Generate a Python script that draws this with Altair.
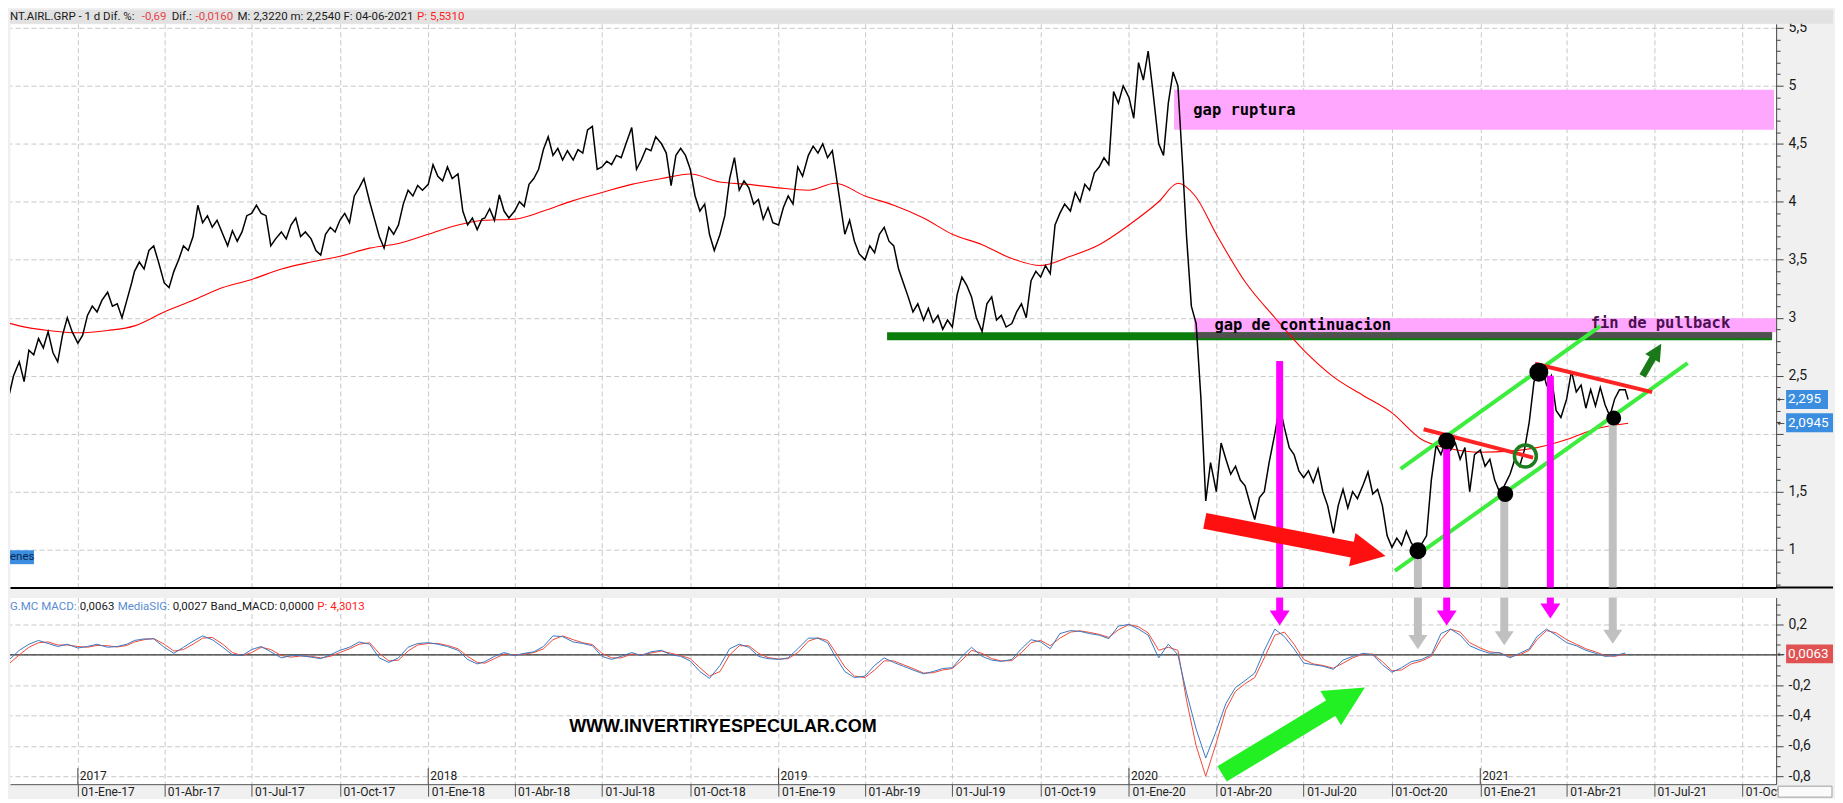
import altair as alt
import pandas as pd

W = 1770      # plot width
H_TOP = 565   # price panel height
H_BOT = 187   # MACD panel height
RX = 57       # room right of the plots

# ---------------- price (5-day samples: days 1,6,11,16,21,26) ----------------
price_2016 = [2.15, 2.32, 2.5,
              2.62, 2.45, 2.72, 2.68, 2.82, 2.74,
              2.88, 2.7, 2.62, 2.85, 3.0, 2.88]
price_2017 = [2.78, 2.85, 3.02, 3.1, 3.05, 3.15,
              3.22, 3.1, 3.12, 3.0, 3.15, 3.3,
              3.4, 3.48, 3.42, 3.58, 3.62, 3.48,
              3.3, 3.26, 3.4, 3.5, 3.62, 3.58,
              3.7, 3.97, 3.82, 3.88, 3.78, 3.84,
              3.72, 3.62, 3.75, 3.66, 3.74, 3.88,
              3.9, 3.97, 3.9, 3.88, 3.62, 3.68,
              3.74, 3.68, 3.8, 3.86, 3.7, 3.74,
              3.68, 3.58, 3.54, 3.72, 3.78, 3.74,
              3.84, 3.9, 3.82, 4.05, 4.12, 4.2,
              4.0, 3.85, 3.7, 3.6, 3.78, 3.72,
              3.8, 3.98, 4.1, 4.05, 4.14, 4.1]
price_2018 = [4.15, 4.32, 4.22, 4.18, 4.3, 4.2,
              4.24, 3.92, 3.8, 3.86, 3.76, 3.85,
              3.86, 3.94, 3.84, 4.06, 3.92, 3.86,
              3.92, 4.0, 3.96, 4.15, 4.2, 4.28,
              4.45, 4.56, 4.4, 4.46, 4.36, 4.44,
              4.36, 4.45, 4.42, 4.62, 4.65, 4.28,
              4.3, 4.35, 4.32, 4.4, 4.38, 4.5,
              4.64, 4.28, 4.36, 4.46, 4.44, 4.56,
              4.5, 4.42, 4.14, 4.4, 4.46, 4.4,
              4.28, 4.05, 3.92, 3.98, 3.72, 3.58,
              3.72, 3.88, 4.2, 4.38, 4.1, 4.18,
              4.12, 3.98, 4.02, 3.85, 3.95, 3.82]
price_2019 = [3.8, 3.95, 4.05, 3.98, 4.3, 4.22,
              4.4, 4.48, 4.42, 4.5, 4.38, 4.44,
              4.28, 4.0, 3.72, 3.84, 3.66, 3.55,
              3.5, 3.62, 3.56, 3.72, 3.78, 3.66,
              3.62, 3.42, 3.3, 3.18, 3.05, 3.12,
              2.98, 3.08, 2.96, 3.02, 2.9, 2.98,
              2.92, 3.2, 3.35, 3.28, 3.18, 3.0,
              2.88, 3.12, 3.18, 2.98, 3.02, 2.92,
              2.95, 3.05, 3.12, 3.0, 3.32, 3.4,
              3.35, 3.45, 3.38, 3.8, 3.9, 3.98,
              3.92, 4.08, 4.0, 4.15, 4.1, 4.25,
              4.3, 4.38, 4.32, 4.95, 4.85, 5.0]
price_2020 = [4.9, 4.72, 5.2, 5.05, 5.3, 4.95,
              4.5, 4.4, 4.85, 5.12, 5.0, 4.3,
              3.7, 3.1, 2.95, 2.3, 1.42, 1.75,
              1.5, 1.92, 1.78, 1.65, 1.72, 1.6,
              1.55, 1.4, 1.26, 1.45, 1.5, 1.75,
              2.0, 2.24, 2.05, 1.88, 1.82, 1.68,
              1.62, 1.68, 1.58, 1.7, 1.5, 1.38,
              1.14, 1.38, 1.52, 1.36, 1.5, 1.44,
              1.56, 1.67, 1.48, 1.52, 1.38, 1.12,
              1.02, 1.1, 1.04, 1.16, 1.06, 1.0,
              1.05, 1.12, 1.6, 1.9, 1.82, 1.94,
              1.86, 1.92, 1.78, 1.88, 1.5, 1.82]
price_2021 = [1.86, 1.72, 1.78, 1.6, 1.5, 1.55,
              1.65, 1.78, 1.72, 1.86, 2.1, 2.45,
              2.5, 2.58, 2.42, 2.5, 2.2, 2.14,
              2.3, 2.54, 2.36, 2.42, 2.22, 2.38,
              2.24, 2.4, 2.25, 2.15, 2.3, 2.38,
              2.38, 2.295]

# moving average (red)
ma_dates = ["2016-10-10", "2016-11-01", "2016-12-01",
            "2017-01-01", "2017-02-01", "2017-03-01", "2017-04-01", "2017-05-01", "2017-06-01",
            "2017-07-01", "2017-08-01", "2017-09-01", "2017-10-01", "2017-11-01", "2017-12-01",
            "2018-01-01", "2018-02-01", "2018-03-01", "2018-04-01", "2018-05-01", "2018-06-01",
            "2018-07-01", "2018-08-01", "2018-09-01", "2018-10-01", "2018-11-01", "2018-12-01",
            "2019-01-01", "2019-02-01", "2019-03-01", "2019-04-01", "2019-05-01", "2019-06-01",
            "2019-07-01", "2019-08-01", "2019-09-01", "2019-10-01", "2019-11-01", "2019-12-01",
            "2020-01-01", "2020-02-01", "2020-02-21", "2020-03-10", "2020-04-01", "2020-05-01",
            "2020-06-01", "2020-07-01", "2020-08-01", "2020-09-01", "2020-10-01", "2020-11-01",
            "2020-12-01", "2021-01-01", "2021-02-01", "2021-03-01", "2021-04-01", "2021-05-01",
            "2021-06-04"]
ma_vals = [2.98, 2.93, 2.89,
           2.87, 2.89, 2.93, 3.05, 3.15, 3.26,
           3.33, 3.42, 3.48, 3.53, 3.6, 3.64,
           3.72, 3.8, 3.84, 3.85, 3.92, 4.01,
           4.08, 4.15, 4.2, 4.24, 4.17, 4.15,
           4.12, 4.1, 4.16, 4.05, 3.97, 3.86,
           3.72, 3.63, 3.51, 3.45, 3.53, 3.63,
           3.8, 4.0, 4.16, 4.05, 3.72, 3.31,
           3.0, 2.72, 2.49, 2.33, 2.18, 1.95,
           1.87, 1.84, 1.85, 1.88, 1.95, 2.04,
           2.09]

# ---------------- MACD (samples on days 1, 11, 21) ----------------
sig_2016 = [-0.12, -0.035, 0.03, 0.07, 0.095, 0.075, 0.055, 0.07]
sig_2017 = [0.045, 0.055, 0.07, 0.05, 0.055, 0.07, 0.095, 0.105, 0.105,
            0.05, 0.01, 0.05, 0.09, 0.125, 0.1, 0.05, 0.0, -0.005,
            0.035, 0.055, 0.02, -0.02, -0.005, -0.005, -0.015, -0.025, 0.0,
            0.03, 0.05, 0.085, 0.07, -0.02, -0.05, -0.02, 0.05, 0.075]
sig_2018 = [0.08, 0.07, 0.055, 0.03, -0.03, -0.06, -0.045, -0.01, 0.015,
            -0.005, 0.01, 0.02, 0.055, 0.125, 0.12, 0.085, 0.075, 0.06,
            -0.01, -0.03, -0.01, 0.015, -0.005, 0.02, 0.03, 0.0, -0.01,
            -0.04, -0.11, -0.155, -0.07, 0.04, 0.07, 0.05, -0.01, -0.025]
sig_2019 = [-0.03, -0.02, 0.04, 0.11, 0.11, 0.08, -0.01, -0.11, -0.15,
            -0.14, -0.07, -0.02, -0.05, -0.075, -0.1, -0.125, -0.11, -0.09,
            -0.085, -0.01, 0.05, -0.01, -0.035, -0.043, -0.03, 0.04, 0.1,
            0.085, 0.04, 0.14, 0.16, 0.155, 0.14, 0.13, 0.107, 0.19]
sig_2020 = [0.2, 0.17, 0.13, -0.02, 0.07, 0.0, -0.25, -0.49, -0.68,
            -0.5, -0.32, -0.215, -0.17, -0.12, 0.03, 0.17, 0.12, 0.04,
            -0.054, -0.065, -0.075, -0.095, -0.035, -0.01, 0.01, 0.0, -0.065,
            -0.115, -0.085, -0.045, -0.03, 0.0, 0.14, 0.17, 0.13, 0.06]
sig_2021 = [0.03, 0.01, 0.015, -0.02, 0.01, 0.04, 0.12, 0.17, 0.13,
            0.08, 0.06, 0.03, 0.01, -0.01, -0.005, 0.012]

macd_2016 = [-0.1, -0.06, 0.0, 0.05, 0.08, 0.085, 0.065, 0.065]
macd_2017 = [0.055, 0.05, 0.062, 0.06, 0.052, 0.062, 0.085, 0.1, 0.108,
             0.07, 0.025, 0.035, 0.07, 0.11, 0.115, 0.07, 0.015, -0.005,
             0.015, 0.05, 0.035, -0.005, -0.015, -0.008, -0.01, -0.02, -0.01,
             0.015, 0.04, 0.07, 0.08, 0.01, -0.04, -0.035, 0.025, 0.065]
macd_2018 = [0.075, 0.075, 0.062, 0.04, -0.01, -0.05, -0.055, -0.025, 0.005,
             0.0, 0.005, 0.015, 0.04, 0.1, 0.125, 0.1, 0.08, 0.068,
             0.01, -0.02, -0.02, 0.005, 0.0, 0.012, 0.025, 0.01, -0.005,
             -0.025, -0.085, -0.14, -0.11, 0.0, 0.06, 0.06, 0.01, -0.018]
macd_2019 = [-0.028, -0.025, 0.015, 0.09, 0.112, 0.095, 0.02, -0.08, -0.14,
             -0.15, -0.1, -0.04, -0.04, -0.065, -0.09, -0.12, -0.118, -0.1,
             -0.09, -0.035, 0.03, 0.01, -0.025, -0.04, -0.038, 0.015, 0.08,
             0.095, 0.06, 0.11, 0.15, 0.158, 0.148, 0.135, 0.115, 0.165]
macd_2020 = [0.2, 0.185, 0.145, 0.03, 0.05, 0.03, -0.3, -0.6, -0.8,
             -0.58, -0.36, -0.24, -0.19, -0.15, -0.02, 0.13, 0.15, 0.07,
             -0.03, -0.06, -0.07, -0.088, -0.055, -0.02, 0.005, 0.005, -0.045,
             -0.105, -0.1, -0.06, -0.04, -0.01, 0.1, 0.17, 0.15, 0.08]
macd_2021 = [0.045, 0.02, 0.012, -0.01, 0.0, 0.03, 0.1, 0.16, 0.145,
             0.1, 0.07, 0.04, 0.02, -0.005, -0.01, 0.006]

# ---------------- annotations ----------------
gap_start = ["2020-02-17", "2020-03-09"]
gap_end = ["2021-11-03", "2021-11-05"]
gap_top = [4.966, 2.996]
gap_bottom = [4.622, 2.875]

note_text = ["gap ruptura", "gap de continuacion", "fin de pullback"]
note_date = ["2020-03-08", "2020-03-30", "2021-04-26"]
note_price = [4.794, 2.935, 2.953]
note_color = ["#000000", "#000000", "#4a1050"]

support_start, support_end, support_level = "2019-04-24", "2021-11-01", 2.841
support_grey_start, support_grey_level = "2020-03-09", 2.849

chan_start = ["2020-10-10", "2020-10-04"]
chan_end = ["2021-05-06", "2021-08-05"]
chan_p1 = [1.696, 0.818]
chan_p2 = [2.927, 2.608]

res_start = ["2020-11-03", "2021-02-27"]
res_end = ["2021-02-25", "2021-06-29"]
res_p1 = [2.038, 2.603]
res_p2 = [1.794, 2.359]

dot_date = ["2020-10-28", "2020-11-27", "2021-01-27", "2021-03-03", "2021-05-20"]
dot_price = [0.99, 1.937, 1.48, 2.53, 2.135]
dot_diam = [17, 17, 16, 19, 15]

ring_date, ring_price = "2021-02-17", 1.808

# vertical arrows: date, start price (top panel), MACD tip value
mag_date = ["2020-06-06", "2020-11-27", "2021-03-15"]
mag_top = [2.626, 1.91, 2.5]
mag_tip = [0.193, 0.193, 0.24]
grey_date = ["2020-10-28", "2021-01-26", "2021-05-19"]
grey_top = [0.99, 1.48, 2.135]
grey_tip = [0.035, 0.06, 0.07]

# slanted arrows: tail, head centre, angle (deg, screen)
red_arrow = dict(d1="2020-03-20", p1=1.249, d2="2020-09-07", p2=0.973, ang=11)
dkg_arrow = dict(d1="2021-06-19", p1=2.497, d2="2021-07-04", p2=2.713, ang=301)
grn_arrow = dict(d1="2020-04-07", p1=-0.785, d2="2020-08-16", p2=-0.283, ang=329)

years = [2017, 2018, 2019, 2020, 2021]
hdr_texts = ["NT.AIRL.GRP - 1 d Dif. %:", "-0,69", "Dif.:", "-0,0160",
             "M: 2,3220 m: 2,2540 F: 04-06-2021", "P: 5,5310"]
hdr_x = [0, 132, 162, 186, 228, 408]
hdr_col = ["#1a1a1a", "#e8444a", "#1a1a1a", "#e8444a", "#1a1a1a", "#ff1a1a"]
mh_texts = ["G.MC MACD:", "0,0063", "MediaSIG:", "0,0027", "Band_MACD:", "0,0000", "P: 4,3013"]
mh_x = [0, 70, 108, 163, 201, 270, 308]
mh_col = ["#5a8bd2", "#1a1a1a", "#5a8bd2", "#1a1a1a", "#1a1a1a", "#1a1a1a", "#ff1a1a"]
last_price, last_ma, last_macd = 2.295, 2.0945, 0.0063

# ---------------- build tables ----------------
def months(y0, m0, y1, m1):
    out, y, m = [], y0, m0
    while (y, m) <= (y1, m1):
        out.append((y, m))
        m += 1
        if m == 13:
            y, m = y + 1, 1
    return out

p_dates = ["2016-10-16", "2016-10-21", "2016-10-26"]
for (y, m) in months(2016, 11, 2021, 5):
    for d in [1, 6, 11, 16, 21, 26]:
        p_dates.append(f"{y}-{m:02d}-{d:02d}")
p_dates += ["2021-06-01", "2021-06-04"]
p_vals = price_2016 + price_2017 + price_2018 + price_2019 + price_2020 + price_2021
assert len(p_dates) == len(p_vals), (len(p_dates), len(p_vals))
price_df = pd.DataFrame({"date": pd.to_datetime(p_dates), "v": p_vals})

m_dates = ["2016-10-11", "2016-10-21"]
for (y, m) in months(2016, 11, 2021, 5):
    for d in [1, 11, 21]:
        m_dates.append(f"{y}-{m:02d}-{d:02d}")
m_dates += ["2021-06-01"]
sig_vals = sig_2016 + sig_2017 + sig_2018 + sig_2019 + sig_2020 + sig_2021
macd_vals = macd_2016 + macd_2017 + macd_2018 + macd_2019 + macd_2020 + macd_2021
assert len(m_dates) == len(sig_vals) == len(macd_vals), (len(m_dates), len(sig_vals), len(macd_vals))
macd_df = pd.DataFrame({"date": pd.to_datetime(m_dates), "sig": sig_vals, "macd": macd_vals})

ma_df = pd.DataFrame({"date": pd.to_datetime(ma_dates), "v": ma_vals})
gap_df = pd.DataFrame({"date": pd.to_datetime(gap_start), "date2": pd.to_datetime(gap_end),
                       "v": gap_top, "v2": gap_bottom})
note_df = pd.DataFrame({"date": pd.to_datetime(note_date), "v": note_price, "t": note_text, "c": note_color})
chan_df = pd.DataFrame({"date": pd.to_datetime(chan_start), "date2": pd.to_datetime(chan_end),
                        "v": chan_p1, "v2": chan_p2})
res_df = pd.DataFrame({"date": pd.to_datetime(res_start), "date2": pd.to_datetime(res_end),
                       "v": res_p1, "v2": res_p2})
dot_df = pd.DataFrame({"date": pd.to_datetime(dot_date), "v": dot_price,
                       "s": [d * d for d in dot_diam]})
ring_df = pd.DataFrame({"date": pd.to_datetime([ring_date]), "v": [ring_price]})
sup_df = pd.DataFrame({"date": pd.to_datetime([support_start]), "date2": pd.to_datetime([support_end]),
                       "v": [support_level]})
supg_df = pd.DataFrame({"date": pd.to_datetime([support_grey_start]), "date2": pd.to_datetime([support_end]),
                        "v": [support_grey_level]})
HEAD_OFF = 7.5 / 152.0   # half head height in MACD units
mag_df = pd.DataFrame({"date": pd.to_datetime(mag_date), "v": mag_top,
                       "tip": mag_tip, "head": [t + HEAD_OFF for t in mag_tip]})
grey_df = pd.DataFrame({"date": pd.to_datetime(grey_date), "v": grey_top,
                        "tip": grey_tip, "head": [t + HEAD_OFF for t in grey_tip]})
year_df = pd.DataFrame({"date": pd.to_datetime([f"{y}-01-01" for y in years]),
                        "t": [str(y) for y in years]})
one = pd.DataFrame({"k": [0]})

def arrow_df(a):
    return pd.DataFrame({"date": pd.to_datetime([a["d1"]]), "date2": pd.to_datetime([a["d2"]]),
                         "v": [a["p1"]], "v2": [a["p2"]]})

# ---------------- scales & axes ----------------
xscale = alt.Scale(domain=[alt.DateTime(year=2016, month=10, date=22, hours=7),
                           alt.DateTime(year=2021, month=11, date=5, hours=5)])
quarters = [alt.DateTime(year=y, month=m, date=1) for y in range(2017, 2022) for m in (1, 4, 7, 10)]
GRID = dict(grid=True, gridDash=[5, 3], gridColor="#c8c8c8", gridWidth=1)

top_xaxis = alt.Axis(values=quarters, labels=False, ticks=False, domain=True,
                     domainColor="#000000", domainWidth=2, title=None, **GRID)
month_expr = ("'01-' + ['Ene','Feb','Mar','Abr','May','Jun','Jul','Ago','Sep','Oct','Nov','Dic']"
              "[month(datum.value)] + '-' + timeFormat(datum.value, '%y')")
bot_xaxis = alt.Axis(values=quarters, labelExpr=month_expr, labelAlign="left", labelBaseline="top",
                     labelPadding=-10, labelOffset=3, labelFont="Roboto", labelFontSize=12,
                     labelColor="#222222", labelOverlap=False, labelFlush=False, tickSize=12,
                     tickColor="#555555", domainColor="#555555", title=None, **GRID)

# price axis: labels every 0.5 (the one under the value box is left out), minor ticks every 0.1
price_ticks = [round(k / 10, 1) for k in range(7, 56)]
maj_p = "abs(datum.value*2 - round(datum.value*2)) < 0.001"
top_yaxis = alt.Axis(orient="right", values=price_ticks,
                     labelExpr=(f"{maj_p} && abs(datum.value - 2) > 0.01 ? "
                                "replace(toString(round(datum.value*10)/10), '.', ',') : ''"),
                     tickSize={"condition": {"test": maj_p, "value": 7}, "value": 4},
                     gridOpacity={"condition": {"test": maj_p, "value": 1}, "value": 0},
                     labelPadding=5, labelFont="Roboto", labelFontSize=14, labelColor="#1a1a1a",
                     labelOverlap=False, labelFlush=False, domainColor="#444444",
                     tickColor="#444444", title=None, grid=True, gridDash=[5, 3], gridColor="#c8c8c8")
yscale_top = alt.Scale(domain=[0.673, 5.5344], nice=False, zero=False)

macd_ticks = [k / 15 for k in range(-12, 6)]
maj_m = "abs(datum.value*5 - round(datum.value*5)) < 0.001"
bot_yaxis = alt.Axis(orient="right", values=macd_ticks,
                     labelExpr=(f"{maj_m} && abs(datum.value) > 0.01 ? (datum.value < -0.001 ? '-' : '') + "
                                "replace(toString(round(abs(datum.value)*10)/10), '.', ',') : ''"),
                     tickSize={"condition": {"test": maj_m, "value": 7}, "value": 4},
                     gridOpacity={"condition": {"test": maj_m, "value": 1}, "value": 0},
                     labelPadding=5, labelFont="Roboto", labelFontSize=14, labelColor="#1a1a1a",
                     labelOverlap=False, labelFlush=False, domainColor="#444444",
                     tickColor="#444444", title=None, grid=True, gridDash=[5, 3], gridColor="#c8c8c8")
yscale_bot = alt.Scale(domain=[-0.8526, 0.3776], nice=False, zero=False)

def XT(f="date"):
    return alt.X(f"{f}:T", scale=xscale, axis=top_xaxis, title=None)
def XB(f="date"):
    return alt.X(f"{f}:T", scale=xscale, axis=bot_xaxis, title=None)
def YT(f="v"):
    return alt.Y(f"{f}:Q", scale=yscale_top, axis=top_yaxis, title=None)
def YB(f="v"):
    return alt.Y(f"{f}:Q", scale=yscale_bot, axis=bot_yaxis, title=None)

def px_text(txt, x, y, color, size=11.5, font="Roboto", weight="normal", align="left"):
    return alt.Chart(one).mark_text(text=txt, align=align, baseline="middle", font=font,
                                    fontSize=size, fontWeight=weight, color=color).encode(
        x=alt.value(x), y=alt.value(y))

HEAD_RIGHT = "M-1,-1L1,0L-1,1Z"
HEAD_DOWN = "M-1,-0.75L1,-0.75L0,0.75Z"
BOX_S = "M-1,-0.45L1,-0.45L1,0.45L-1,0.45Z"
BOX_L = "M-1,-0.4L1,-0.4L1,0.4L-1,0.4Z"

# ---------------- price panel ----------------
top_layers = []
top_layers.append(alt.Chart(one).mark_rect(color="#e2e2e2").encode(
    x=alt.value(0), x2=alt.value(W + RX), y=alt.value(-14), y2=alt.value(0)))
for t, x, c in zip(hdr_texts, hdr_x, hdr_col):
    top_layers.append(px_text(t, x, -7, c))

top_layers.append(alt.Chart(gap_df).mark_rect(color="#ffa6ff").encode(
    x=XT(), x2="date2:T", y=YT(), y2="v2:Q"))
top_layers.append(alt.Chart(sup_df).mark_rule(color="#0b7d0b", strokeWidth=8).encode(
    x=XT(), x2="date2:T", y=YT()))
top_layers.append(alt.Chart(supg_df).mark_rule(color="#505050", strokeWidth=6).encode(
    x=XT(), x2="date2:T", y=YT()))
top_layers.append(alt.Chart(ma_df).mark_line(color="#ff0000", strokeWidth=1.1,
                                             interpolate="monotone", clip=True).encode(x=XT(), y=YT()))
top_layers.append(alt.Chart(price_df).mark_line(color="#000000", strokeWidth=1.5, clip=True).encode(
    x=XT(), y=YT()))
top_layers.append(alt.Chart(chan_df).mark_rule(color="#3ded3d", strokeWidth=4).encode(
    x=XT(), x2="date2:T", y=YT(), y2="v2:Q"))
top_layers.append(alt.Chart(res_df).mark_rule(color="#ff2424", strokeWidth=4).encode(
    x=XT(), x2="date2:T", y=YT(), y2="v2:Q"))
top_layers.append(alt.Chart(grey_df).mark_rule(color="#c0c0c0", strokeWidth=8).encode(
    x=XT(), y=YT(), y2=alt.value(H_TOP)))
top_layers.append(alt.Chart(mag_df).mark_rule(color="#ff00ff", strokeWidth=7).encode(
    x=XT(), y=YT(), y2=alt.value(H_TOP)))
# red arrow
top_layers.append(alt.Chart(arrow_df(red_arrow)).mark_rule(color="#ff1010", strokeWidth=16).encode(
    x=XT(), x2="date2:T", y=YT(), y2="v2:Q"))
top_layers.append(alt.Chart(arrow_df(red_arrow)).mark_point(
    shape=HEAD_RIGHT, filled=True, opacity=1, size=34 * 34, angle=red_arrow["ang"], color="#ff1010").encode(
    x=XT("date2"), y=YT("v2")))
# small dark green arrow
top_layers.append(alt.Chart(arrow_df(dkg_arrow)).mark_rule(color="#1a7a1a", strokeWidth=7).encode(
    x=XT(), x2="date2:T", y=YT(), y2="v2:Q"))
top_layers.append(alt.Chart(arrow_df(dkg_arrow)).mark_point(
    shape=HEAD_RIGHT, filled=True, opacity=1, size=17 * 17, angle=dkg_arrow["ang"], color="#1a7a1a").encode(
    x=XT("date2"), y=YT("v2")))
top_layers.append(alt.Chart(dot_df).mark_point(shape="circle", filled=True, opacity=1, color="#000000").encode(
    x=XT(), y=YT(), size=alt.Size("s:Q", scale=None, legend=None)))
top_layers.append(alt.Chart(ring_df).mark_point(shape="circle", filled=False, size=22 * 22,
                                                strokeWidth=3.5, color="#1e7d1e", opacity=1).encode(
    x=XT(), y=YT()))
top_layers.append(alt.Chart(note_df).mark_text(align="left", baseline="middle", font="DejaVu Sans Mono",
                                               fontWeight="bold", fontSize=15.5).encode(
    x=XT(), y=YT(), text="t:N", color=alt.Color("c:N", scale=None, legend=None)))
# value boxes on the right axis
for val, shape, size, cx, lab in [(last_price, BOX_S, 42 * 42, W + 31, "2,295"),
                                  (last_ma, BOX_L, 47 * 47, W + 33.5, "2,0945")]:
    bdf = pd.DataFrame({"v": [val]})
    top_layers.append(alt.Chart(bdf).mark_point(shape=shape, filled=True, opacity=1, size=size,
                                                color="#3b8de0").encode(x=alt.value(cx), y=YT()))
    top_layers.append(alt.Chart(bdf).mark_text(text=lab, align="left", baseline="middle", font="Roboto",
                                               fontSize=13.5, color="white").encode(x=alt.value(W + 12), y=YT()))
    top_layers.append(alt.Chart(bdf).mark_text(text="\u2190", align="left", baseline="middle", font="DejaVu Sans",
                                               fontSize=9, color="#333333").encode(x=alt.value(W + 1), y=YT()))
top_layers.append(alt.Chart(one).mark_rule(color="#000000", strokeWidth=2).encode(
    x=alt.value(W), x2=alt.value(W + RX), y=alt.value(H_TOP)))
enes_df = pd.DataFrame({"v": [0.995], "v2": [0.875], "vm": [0.935]})
top_layers.append(alt.Chart(enes_df).mark_rect(color="#3b8de0").encode(
    x=alt.value(0), x2=alt.value(24), y=YT(), y2="v2:Q"))
top_layers.append(alt.Chart(enes_df).mark_text(text="enes", align="left", baseline="middle", font="Roboto",
                                               fontSize=11.5, color="#0d2850").encode(x=alt.value(0), y=YT("vm")))

top = alt.layer(*top_layers).properties(width=W, height=H_TOP)

# ---------------- MACD panel ----------------
bl = []
bl.append(alt.Chart(pd.DataFrame({"v": [0.0]})).mark_rule(color="#333333", strokeWidth=1.2).encode(y=YB()))
bl.append(alt.Chart(macd_df).mark_line(color="#f04a38", strokeWidth=1, clip=True).encode(x=XB(), y=YB("macd")))
bl.append(alt.Chart(macd_df).mark_line(color="#3a78c2", strokeWidth=1, clip=True).encode(x=XB(), y=YB("sig")))
bl.append(alt.Chart(grey_df).mark_rule(color="#c0c0c0", strokeWidth=8).encode(
    x=XB(), y=YB("head"), y2=alt.value(0)))
bl.append(alt.Chart(grey_df).mark_point(shape=HEAD_DOWN, filled=True, opacity=1, size=19 * 19,
                                        color="#c0c0c0").encode(x=XB(), y=YB("head")))
bl.append(alt.Chart(mag_df).mark_rule(color="#ff00ff", strokeWidth=7).encode(
    x=XB(), y=YB("head"), y2=alt.value(0)))
bl.append(alt.Chart(mag_df).mark_point(shape=HEAD_DOWN, filled=True, opacity=1, size=20 * 20,
                                       color="#ff00ff").encode(x=XB(), y=YB("head")))
bl.append(alt.Chart(arrow_df(grn_arrow)).mark_rule(color="#22f022", strokeWidth=18).encode(
    x=XB(), x2="date2:T", y=YB(), y2="v2:Q"))
bl.append(alt.Chart(arrow_df(grn_arrow)).mark_point(
    shape=HEAD_RIGHT, filled=True, opacity=1, size=40 * 40, angle=grn_arrow["ang"], color="#22f022").encode(
    x=XB("date2"), y=YB("v2")))
web_df = pd.DataFrame({"date": pd.to_datetime(["2018-11-04"]), "v": [-0.478]})
bl.append(alt.Chart(web_df).mark_text(text="WWW.INVERTIRYESPECULAR.COM", align="center", baseline="middle",
                                      font="Liberation Sans", fontWeight="bold", fontSize=18,
                                      color="#000000").encode(x=XB(), y=YB()))
for t, x, c in zip(mh_texts, mh_x, mh_col):
    bl.append(px_text(t, x, 9, c))
bl.append(alt.Chart(year_df).mark_rule(color="#444444").encode(x=XB(), y=alt.value(171), y2=alt.value(H_BOT)))
bl.append(alt.Chart(year_df).mark_text(align="left", baseline="middle", font="Roboto", fontSize=12,
                                       color="#222222", dx=2).encode(x=XB(), y=alt.value(179), text="t:N"))
mdf = pd.DataFrame({"v": [last_macd]})
bl.append(alt.Chart(mdf).mark_point(shape=BOX_L, filled=True, opacity=1, size=47 * 47,
                                    color="#e05252").encode(x=alt.value(W + 33.5), y=YB()))
bl.append(alt.Chart(mdf).mark_text(text="0,0063", align="left", baseline="middle", font="Roboto",
                                   fontSize=13.5, color="white").encode(x=alt.value(W + 12), y=YB()))
bl.append(alt.Chart(mdf).mark_text(text="\u2190", align="left", baseline="middle", font="DejaVu Sans",
                                   fontSize=9, color="#333333").encode(x=alt.value(W + 1), y=YB()))
bl.append(alt.Chart(one).mark_rect(color="#fafafa", stroke="#a0a0a0", strokeWidth=1).encode(
    x=alt.value(W + 2), x2=alt.value(W + RX - 1), y=alt.value(H_BOT + 2), y2=alt.value(H_BOT + 13)))

bot = alt.layer(*bl).properties(width=W, height=H_BOT)

chart = alt.vconcat(top, bot, spacing=0).properties(padding=0).configure(
    background="#f0f0f0", font="Roboto").configure_view(fill="white", stroke="transparent")

chart.save("out.html", embed_options={"renderer": "svg", "actions": False})
